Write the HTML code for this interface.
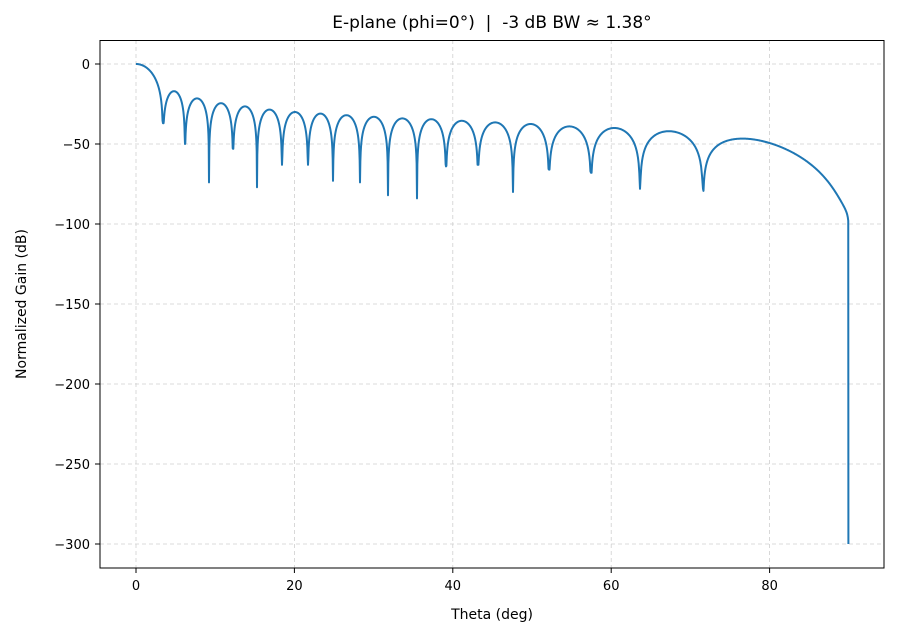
<!DOCTYPE html>
<html><head><meta charset="utf-8"><style>
html,body{margin:0;padding:0;background:#fff;}
svg{display:block;font-family:"DejaVu Sans","Liberation Sans",sans-serif;}
</style></head><body>
<svg id="s" width="897" height="637" xmlns="http://www.w3.org/2000/svg">
<rect width="897" height="637" fill="#fff"/>
<g stroke="#cfcfcf" stroke-width="0.8" stroke-dasharray="4,3">
<line x1="136" y1="40" x2="136" y2="568"/><line x1="294.4" y1="40" x2="294.4" y2="568"/><line x1="452.8" y1="40" x2="452.8" y2="568"/><line x1="611.2" y1="40" x2="611.2" y2="568"/><line x1="769.6" y1="40" x2="769.6" y2="568"/>
<line x1="100" y1="64" x2="884" y2="64"/><line x1="100" y1="144" x2="884" y2="144"/><line x1="100" y1="224" x2="884" y2="224"/><line x1="100" y1="304" x2="884" y2="304"/><line x1="100" y1="384" x2="884" y2="384"/><line x1="100" y1="464" x2="884" y2="464"/><line x1="100" y1="544" x2="884" y2="544"/>
</g>
<path id="curve" fill="none" stroke="#1f77b4" stroke-width="2" stroke-linejoin="round"/>
<rect x="100" y="40.5" width="784" height="527.5" fill="none" stroke="#000" stroke-width="1"/>
<g stroke="#000" stroke-width="1">
<line x1="136" y1="568" x2="136" y2="573"/><line x1="294.4" y1="568" x2="294.4" y2="573"/><line x1="452.8" y1="568" x2="452.8" y2="573"/><line x1="611.2" y1="568" x2="611.2" y2="573"/><line x1="769.6" y1="568" x2="769.6" y2="573"/>
<line x1="95" y1="64" x2="100" y2="64"/><line x1="95" y1="144" x2="100" y2="144"/><line x1="95" y1="224" x2="100" y2="224"/><line x1="95" y1="304" x2="100" y2="304"/><line x1="95" y1="384" x2="100" y2="384"/><line x1="95" y1="464" x2="100" y2="464"/><line x1="95" y1="544" x2="100" y2="544"/>
</g>
<g font-size="13" fill="#000" text-anchor="middle">
<text x="136" y="590">0</text><text x="294.4" y="590">20</text><text x="452.8" y="590">40</text><text x="611.2" y="590">60</text><text x="769.6" y="590">80</text>
</g>
<g font-size="13" fill="#000" text-anchor="end">
<text x="90" y="69">0</text><text x="90" y="149">−50</text><text x="90" y="229">−100</text><text x="90" y="309">−150</text><text x="90" y="389">−200</text><text x="90" y="469">−250</text><text x="90" y="549">−300</text>
</g>
<text x="492" y="619" font-size="14" text-anchor="middle">Theta (deg)</text>
<text transform="translate(26,304) rotate(-90)" font-size="14" text-anchor="middle">Normalized Gain (dB)</text>
<text x="492" y="28" font-size="17" text-anchor="middle">E-plane (phi=0°)&#160; |&#160; -3 dB BW ≈ 1.38°</text>
</svg>
<script>
(function(){
var X=function(t){return 136+t*7.92;},Y=function(d){return 64-1.6*d;};
var npx=[163,185,209,233,257,282,308,333,360,388,417,446,478,513,549,591,640,703];
var nd=[-37,-50,-74,-53,-77,-63,-63,-73,-74,-82,-84,-64,-63,-80,-66,-68,-78,-78];
var pk=[-17,-21.5,-24.5,-26.5,-28.5,-30,-31,-32,-33,-34,-34.5,-35.5,-36.5,-37.5,-39,-40,-42];
var D=Math.PI/180;
var nu=npx.map(function(p){return Math.sin((p-136)/7.92*D);});
var pts=[];
for(var i=0;i<=60;i++){var t=i/60;var v=t==0?1:Math.sin(Math.PI*t)/(Math.PI*t);var d=Math.max(20*Math.log10(Math.abs(v)+1e-9),nd[0]);var th=Math.asin(t*nu[0])/D;pts.push([X(th),Y(d)]);}
for(var k=0;k<pk.length;k++){var u0=nu[k],u1=nu[k+1];for(var i=1;i<=80;i++){var t=i/80;var u=u0+(u1-u0)*t;var s=Math.abs(Math.sin(Math.PI*t));var d=pk[k]+20*Math.log10(s+1e-9);var lim=t<0.5?nd[k]:nd[k+1];d=Math.max(d,lim);if(i==80)d=nd[k+1];pts.push([X(Math.asin(u)/D),Y(d)]);}}
var u0=nu[nu.length-1];
for(var i=1;i<=300;i++){var th=Math.asin(u0)/D+(89.93-Math.asin(u0)/D)*i/300;var u=Math.sin(th*D);var t=(u-u0)/(1.0-u0);var s=Math.abs(Math.sin(Math.PI*t*0.993));var d=-41.5+20*Math.log10(s+1e-9)+10*Math.log10(Math.cos(th*D)+1e-9)*0.8;pts.push([X(th),Y(d)]);}
pts.push([X(89.95),Y(-300)]);
var p="M"+pts.map(function(a){return a[0].toFixed(2)+","+a[1].toFixed(2);}).join("L");
document.getElementById("curve").setAttribute("d",p);
})();
</script>
</body></html>
